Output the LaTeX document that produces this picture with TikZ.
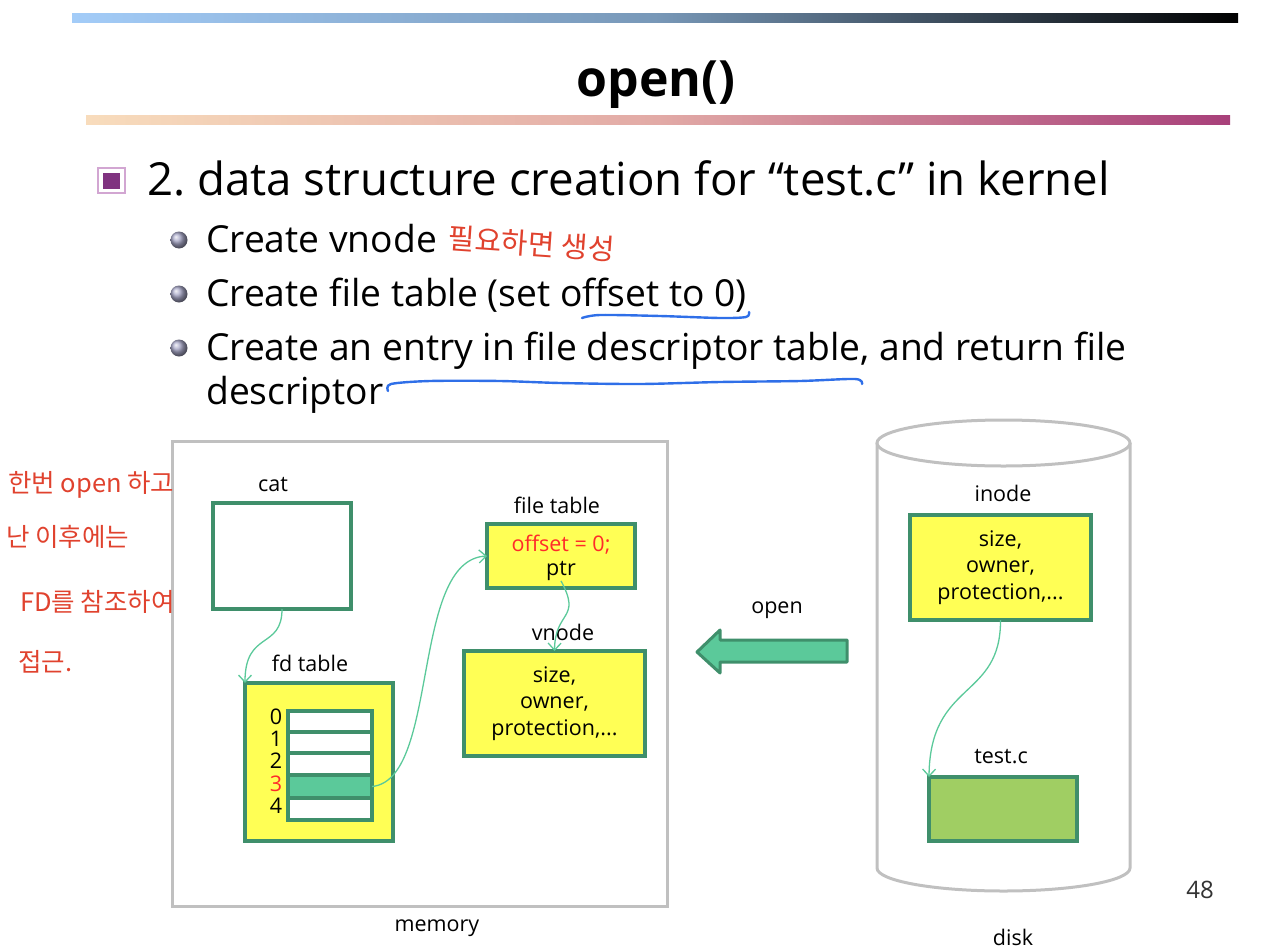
\documentclass[tikz,border=0pt]{standalone}
\usepackage{fontspec}
\setmainfont{Open Sans}
\newfontfamily\krhand{Noto Sans CJK KR}
\usetikzlibrary{arrows.meta}
\definecolor{boxgreen}{HTML}{3F8F6B}
\definecolor{slotfill}{HTML}{5BC99A}
\definecolor{boxyellow}{HTML}{FFFF55}
\definecolor{filegreen}{HTML}{A0CE63}
\definecolor{frame}{HTML}{C0C0C0}
\definecolor{pen}{HTML}{E0422E}
\definecolor{bluepen}{HTML}{2F6FE8}
\definecolor{hot}{HTML}{FF2A2A}
\definecolor{barA}{HTML}{A3CCF8}
\definecolor{barAmid}{HTML}{7898B8}
\definecolor{barB}{HTML}{F8DCBC}
\definecolor{barBmid}{HTML}{E2AAA6}
\definecolor{barBend}{HTML}{A8407A}
\definecolor{bulletc}{HTML}{A8A8C8}
\newcommand\setfs[2]{\fontsize{#1pt}{#2pt}\selectfont}
\frenchspacing
\begin{document}
\begin{tikzpicture}[x=1pt,y=-1pt,
  box/.style={draw=boxgreen, line width=3.5pt, fill=boxyellow, inner sep=0pt, outer sep=0pt, align=center, font=\setfs{21.5}{26.5}},
  slot/.style={draw=boxgreen, line width=3.5pt, fill=white, inner sep=0pt, outer sep=0pt, minimum width=84pt},
  lbl/.style={inner sep=0pt, font=\setfs{21.5}{24}},
  conn/.style={draw=slotfill, line width=1.3pt, -{Straight Barb[length=7pt,width=13pt]}},
  bullettext/.style={anchor=base west, inner sep=0pt, font=\setfs{37.2}{44}},
  hand/.style={inner sep=0pt, text=pen, font=\krhand\setfs{25.5}{32}}]
\useasboundingbox (0,0) rectangle (1268,950);

% header bars and title
\shade[left color=barA, right color=black, middle color=barAmid] (72,14) rectangle (1238,23);
\node[anchor=base, inner sep=0pt, font=\bfseries\setfs{50}{58}] (title) at (656,96) {open()};
\shade[left color=barB, right color=barBend, middle color=barBmid] (86,115) rectangle (1230,124);

% main bullet
\draw[line width=2pt, draw=violet!35] (98,168) rectangle (125,193);
\fill[violet!60!gray] (103,173) rectangle (120,189);
\node[anchor=base west, inner sep=0pt, font=\setfs{45.6}{52}] (head) at (147,195)
  {2. data structure creation for “test.c” in kernel};

% sub bullets
\foreach \yy in {240,294,348} \shade[ball color=bulletc] (179,\yy) circle (8.5pt);
\node[bullettext] (b1) at (206,252) {Create vnode};
\node[bullettext] (b2) at (206,306) {Create file table (set offset to 0)};
\node[bullettext] (b3) at (206,360) {Create an entry in file descriptor table, and return file};
\node[bullettext] (b4) at (206,404) {descriptor};

% memory
\node[draw=frame, line width=3pt, minimum width=495pt, minimum height=465pt, inner sep=0pt] (memory) at (419.5,673.5) {};
\node[lbl] (memlbl) at (437,928) {memory};

\node[lbl] (catlbl) at (273,485) {cat};
\node[box, fill=white, minimum width=138pt, minimum height=106pt] (cat) at (282,556) {};

\node[lbl] (fdlbl) at (310,663) {fd table};
\node[box, minimum width=148pt, minimum height=158pt] (fd) at (319,762) {};
\node[slot, minimum height=21pt] (r0) at (330,721.5) {};
\node[slot, minimum height=21pt] (r1) at (330,742.5) {};
\node[slot, minimum height=22pt] (r2) at (330,764) {};
\node[slot, minimum height=23pt, fill=slotfill] (r3) at (330,786.5) {};
\node[slot, minimum height=22pt] (r4) at (330,809) {};
\node[lbl] (i0) at (276,717) {0};
\node[lbl] (i1) at (276,739) {1};
\node[lbl] (i2) at (276,761) {2};
\node[lbl, text=hot] (i3) at (276,784) {3};
\node[lbl] (i4) at (276,806) {4};

\node[lbl] (ftlbl) at (557,505) {file table};
\node[box, minimum width=148pt, minimum height=64pt] (ft) at (561,556) {};
\node[lbl, text=hot] (off) at (561,545) {offset = 0;};
\node[lbl] (ptr) at (561,571) {ptr};

\node[lbl] (vlbl) at (563,632) {vnode};
\node[box, minimum width=181pt, minimum height=105pt] (vnode) at (554.5,703.5) {size,\\owner,\\protection,...};

% open arrow
\node[lbl] (openlbl) at (777,610) {open};
\draw[boxgreen, fill=slotfill, line width=3pt, line join=round]
  (697,652) -- (720,630) -- (720,640) -- (847,640) -- (847,662) -- (720,662) -- (720,673) -- cycle;

% disk
\draw[frame, line width=3pt] (877,443) -- (877,868) arc[start angle=180, end angle=360, x radius=126.5pt, y radius=23pt] -- (1130,443);
\draw[frame, line width=3pt, fill=white] (1003.5,443) ellipse[x radius=126.5pt, y radius=23pt];
\node[lbl] (disklbl) at (1013,937) {disk};

\node[lbl] (ilbl) at (1003,493) {inode};
\node[box, minimum width=181pt, minimum height=105pt] (inode) at (1000.5,567.5) {size,\\owner,\\protection,...};
\node[lbl] (tlbl) at (1001,757) {test.c};
\node[box, fill=filegreen, minimum width=148pt, minimum height=64pt] (testc) at (1003,809) {};

\node[inner sep=0pt, text=black!80, font=\setfs{24}{28}] (page) at (1200,890) {48};

% pointers
\draw[conn] (cat.south) .. controls (282,650) and (245,630) .. (fd.north west);
\draw[conn] (r3.east) .. controls (440,780) and (410,560) .. (ft.west);
\draw[conn] (ptr.south) .. controls (582,620) and (555,610) .. (vnode.north);
\draw[conn] (inode.south) .. controls (1001,700) and (930,680) .. (testc.north west);

% pen notes, written over everything
\node[hand, anchor=west, rotate=-4, font=\krhand\setfs{29}{34}] (n0) at (448,238) {필요하면 생성};
\node[hand, anchor=west] (n1) at (8,485) {한번 open 하고};
\node[hand, anchor=west] (n2) at (6,537) {난 이후에는};
\node[hand, anchor=west] (n3) at (20,602) {FD를 참조하여};
\node[hand, anchor=west] (n4) at (18,662) {접근.};
\draw[bluepen, line width=2.4pt, line cap=round] plot[smooth] coordinates
  {(582,318) (600,315) (660,316) (720,318) (746,317) (749,312)};
\draw[bluepen, line width=2.4pt, line cap=round] plot[smooth] coordinates
  {(388,391) (391,384) (430,381) (500,381) (560,383) (640,384) (720,382) (800,381) (855,379) (862,384)};
\end{tikzpicture}
\end{document}
